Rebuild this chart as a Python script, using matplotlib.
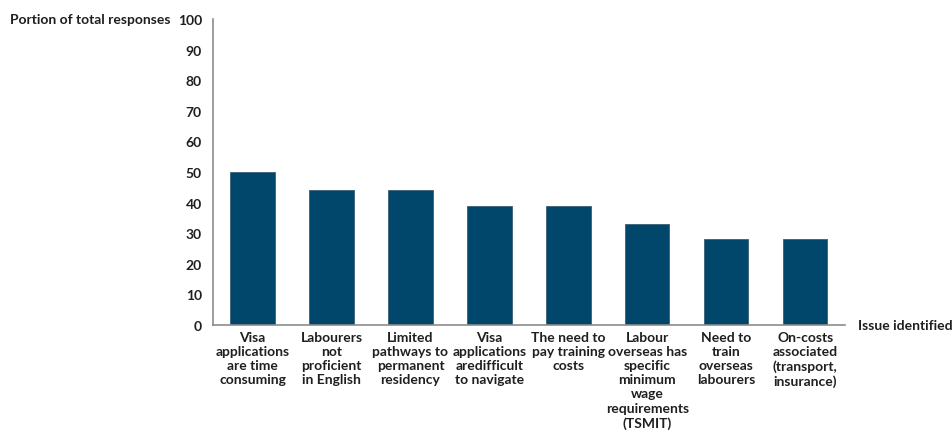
import matplotlib.pyplot as plt

plt.rcParams['font.family'] = ['Lato', 'DejaVu Sans']

# Survey results: share of responses per issue
issues = [
    "Visa\napplications\nare time\nconsuming",
    "Labourers\nnot\nproficient\nin English",
    "Limited\npathways to\npermanent\nresidency",
    "Visa\napplications\naredifficult\nto navigate",
    "The need to\npay training\ncosts",
    "Labour\noverseas has\nspecific\nminimum\nwage\nrequirements\n(TSMIT)",
    "Need to\ntrain\noverseas\nlabourers",
    "On-costs\nassociated\n(transport,\ninsurance)",
]
portion = [50, 44, 44, 39, 39, 33, 28, 28]
yticks = list(range(0, 101, 10))

text_color = '#1f1f1f'

fig = plt.figure(figsize=(9.53, 4.39), dpi=100)
ax = fig.add_axes([0.2235, 0.2574, 0.663, 0.697])

ax.bar(range(len(issues)), portion, width=0.56, color='#00476b',
       edgecolor='#3a5f75', linewidth=0.6)

ax.set_xlim(-0.5, len(issues) - 0.5)
ax.set_ylim(0, 100)
ax.set_yticks(yticks)
ax.set_xticks(range(len(issues)))
ax.set_xticklabels(issues, fontsize=10, fontweight='bold', linespacing=1.22,
                   color=text_color)
ax.tick_params(axis='y', length=0, pad=8, labelsize=10, labelcolor=text_color)
ax.tick_params(axis='x', length=0, pad=4)
for lbl in ax.get_yticklabels():
    lbl.set_fontweight('bold')

for side in ['top', 'right']:
    ax.spines[side].set_visible(False)
for side in ['left', 'bottom']:
    ax.spines[side].set_color('#8c8c8c')
    ax.spines[side].set_linewidth(1.2)

fig.text(170 / 953, 1 - 20 / 439, "Portion of total responses", ha='right',
         va='center', fontsize=10, fontweight='bold', color=text_color)
fig.text(858 / 953, 1 - 326 / 439, "Issue identified", ha='left',
         va='center', fontsize=10, fontweight='bold', color=text_color)

fig.savefig('out.png', dpi=100)
